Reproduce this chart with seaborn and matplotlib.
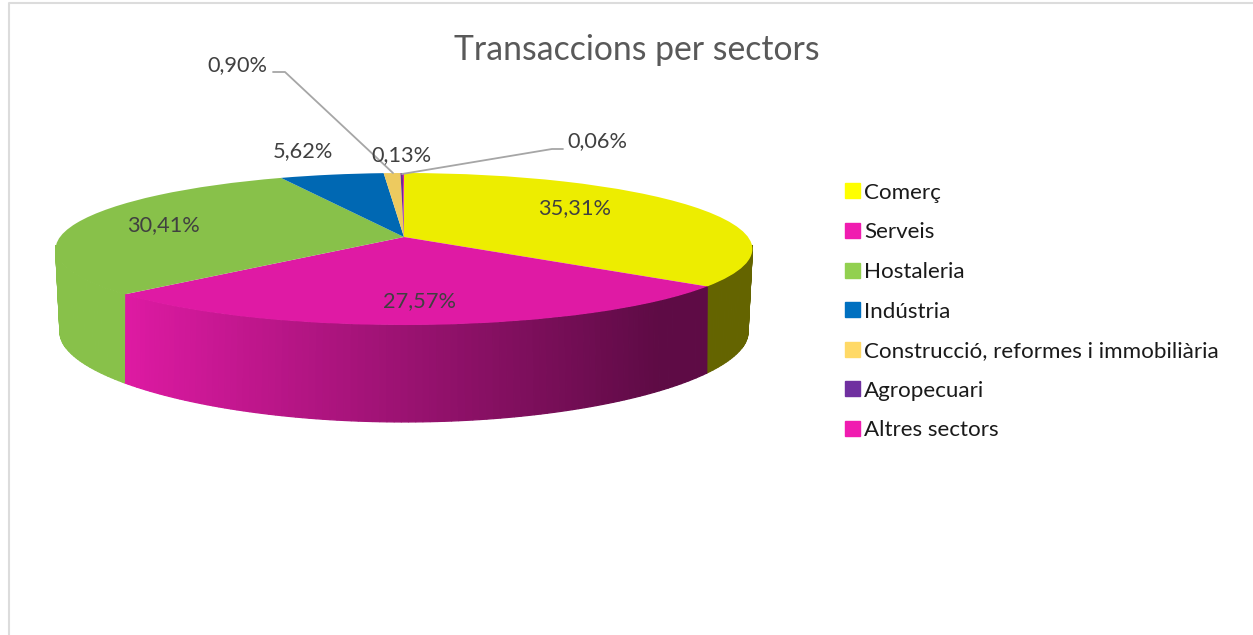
#!/usr/bin/env python
# -*- coding:utf-8 -*-

import numpy as np
import seaborn as sns
from matplotlib import pyplot as plt
from matplotlib.patches import Patch
from matplotlib.transforms import Transform

sectors = ['Comerç', 'Serveis', 'Hostaleria', 'Indústria',
           'Construcció, reformes i immobiliària', 'Agropecuari', 'Altres sectors']
shares = [35.31, 27.57, 30.41, 5.62, 0.90, 0.13, 0.06]
share_labels = ['35,31%', '27,57%', '30,41%', '5,62%', '0,90%', '0,13%', '0,06%']
legend_colors = ['#ffff00', '#f01cb0', '#92d050', '#0070c0', '#ffd966', '#7030a0', '#f01cb0']
label_pos = [(575, 208), (419, 301), (163, 225), (303, 151), (237, 65), (401, 155), (597, 141)]


class Tilt(Transform):
    """unit circle -> picture, the pie is seen from the front and above"""
    input_dims = 2
    output_dims = 2
    has_inverse = False

    def __init__(self, cx, kx, cy, ky, y0):
        super().__init__()
        self.cx, self.kx, self.cy, self.ky, self.y0 = cx, kx, cy, ky, y0

    def transform_non_affine(self, values):
        v = np.asarray(values)
        px = 404 + self.kx * v[:, 0] / (1 + self.cx * v[:, 1])
        py = self.y0 - self.ky * v[:, 1] / (1 + self.cy * v[:, 1])
        return np.column_stack([px, py])


def shade(color, px):
    # side of the pie gets darker towards the right
    f = np.clip(1 - (px - 120) / 540 * 0.58, 0.42, 1)
    return tuple(np.array(color) * f)


sns.set_theme(style='white')
plt.rcParams['font.family'] = ['Lato', 'DejaVu Sans']

palette = sns.color_palette(legend_colors)
top_colors = [tuple(np.array(c) * 0.93) for c in palette]

fig, ax = plt.subplots(figsize=(12.53, 6.35), dpi=100)
fig.subplots_adjust(0, 0, 1, 1)

wedges, _ = ax.pie(shares, colors=top_colors, startangle=90, counterclock=False,
                   radius=1, wedgeprops={'linewidth': 0})

top_rim = Tilt(0.158, 344, 0.158, 74.1, 237)
low_rim = Tilt(0.18, 338.4, 0.25, 78.5, 317.3)

# side wall, one thin strip per degree, only the front part shows
for w, col in zip(wedges, top_colors):
    for t in np.arange(w.theta1, w.theta2, 1.0):
        tt = np.radians([t, min(t + 1.0, w.theta2)])
        if np.sin(tt).max() > -0.1:
            continue
        unit = np.column_stack([np.cos(tt), np.sin(tt)])
        a = top_rim.transform(unit)
        b = low_rim.transform(unit)
        quad = np.vstack([a, b[::-1]])
        c = shade(col, quad[:, 0].mean())
        ax.fill(quad[:, 0], quad[:, 1], color=c, lw=0.9, zorder=1)

for w in wedges:
    w.set_transform(top_rim + ax.transData)
    w.set_zorder(2)

for txt, pos in zip(share_labels, label_pos):
    ax.text(pos[0], pos[1], txt, ha='center', va='center', fontsize=15.7,
            color='#404040', zorder=4)

# leader lines of the two thin slices
ax.plot([273, 285, 393], [72, 72, 173], color='#a6a6a6', lw=1.3, zorder=3)
ax.plot([563, 552, 402], [149, 149, 174], color='#a6a6a6', lw=1.3, zorder=3)

ax.text(637, 49.5, 'Transaccions per sectors', ha='center', va='center',
        fontsize=24.3, color='#595959')

handles = [Patch(color=c, label=s) for c, s in zip(palette, sectors)]
leg = ax.legend(handles=handles, loc='upper left', bbox_to_anchor=(838.3 / 1253, 1 - 176 / 635),
                frameon=False, fontsize=16.1, labelspacing=0.877, handlelength=0.65,
                handleheight=0.65, handletextpad=0.2, borderaxespad=0, borderpad=0.3,
                labelcolor='#1a1a1a')

# chart frame, only partly inside the crop
ax.plot([9, 9, 1253], [635, 3, 3], color='#dcdcdc', lw=1.5, zorder=0)

ax.set_aspect('auto')
ax.set_xlim(0, 1253)
ax.set_ylim(635, 0)
ax.axis('off')

plt.savefig('out.png', dpi=100)
